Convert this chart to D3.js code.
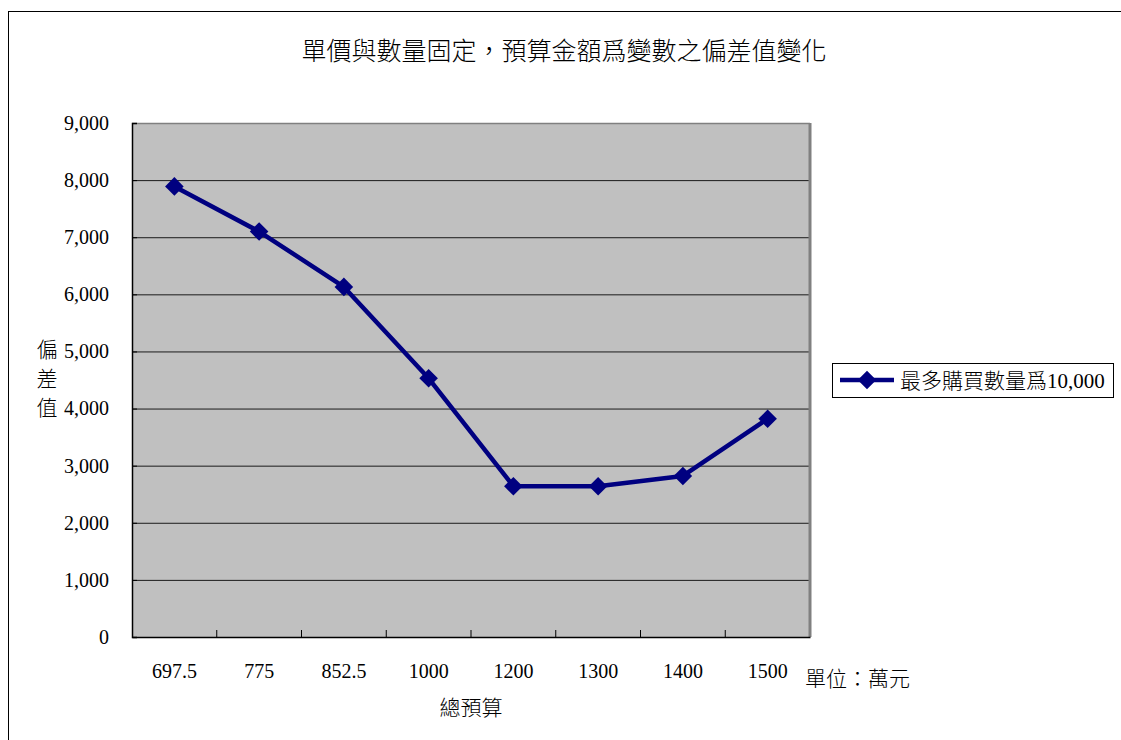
<!DOCTYPE html>
<html>
<head>
<meta charset="utf-8">
<script src="https://cdn.jsdelivr.net/npm/d3@7"></script>
<style>
  body { margin: 0; background: #fff; }
  svg text { fill: #000; }
</style>
</head>
<body>
<div id="chart"></div>
<script>
const chartTitle = "單價與數量固定，預算金額爲變數之偏差值變化";
const categories = ["697.5", "775", "852.5", "1000", "1200", "1300", "1400", "1500"];
const values = [7890, 7100, 6130, 4530, 2640, 2640, 2820, 3820];
const yTickValues = [0, 1000, 2000, 3000, 4000, 5000, 6000, 7000, 8000, 9000];
const seriesName = "最多購買數量爲10,000";
const yLabel = ["偏", "差", "值"];
const xLabel = "總預算";
const unitLabel = "單位：萬元";

const W = 1121, H = 740;
const margin = { top: 123, right: 311, bottom: 103, left: 132 },
    width = W - margin.left - margin.right,
    height = H - margin.top - margin.bottom;

const serif = '"Liberation Serif", "Noto Sans CJK TC", serif';
const cjk = '"Noto Sans CJK TC", "Liberation Serif", sans-serif';
const navy = "#000080";

const svg = d3.select("#chart").append("svg")
    .attr("width", W)
    .attr("height", H);

// outer chart frame (runs off the right and bottom of the picture)
svg.append("rect")
    .attr("x", 8.5).attr("y", 11.5)
    .attr("width", W + 20).attr("height", H + 20)
    .attr("fill", "#fff")
    .attr("stroke", "#000");

svg.append("text")
    .attr("x", 564).attr("y", 60)
    .attr("text-anchor", "middle")
    .style("font-family", cjk)
    .style("font-size", "25px")
    .style("font-weight", 300)
    .text(chartTitle);

const g = svg.append("g")
    .attr("transform", "translate(" + margin.left + "," + margin.top + ")");

const x = d3.scaleBand()
    .domain(categories)
    .range([0, width]);

const y = d3.scaleLinear()
    .domain([0, 9000])
    .range([height, 0]);

// plot area
g.append("rect")
    .attr("width", width).attr("height", height)
    .attr("fill", "#c0c0c0");

// gridlines
g.append("g")
    .call(d3.axisLeft(y).tickValues(yTickValues.slice(1, -1)).tickSize(-width).tickFormat(""))
    .call(s => s.select(".domain").remove())
    .selectAll("line").attr("stroke", "#1a1a1a");

// top and right border
g.append("line").attr("x1", 0).attr("x2", width).attr("y1", 0.5).attr("y2", 0.5)
    .attr("stroke", "#808080").attr("stroke-width", 1.5);
g.append("line").attr("x1", width).attr("x2", width).attr("y1", 0).attr("y2", height)
    .attr("stroke", "#808080").attr("stroke-width", 3);

// y axis
g.append("g")
    .call(d3.axisLeft(y).tickValues(yTickValues).tickSize(-5).tickPadding(23)
        .tickFormat(d3.format(",")))
    .call(s => s.select(".domain").attr("stroke", "#000").attr("stroke-width", 1.5))
    .call(s => s.selectAll("text").style("font-family", serif).style("font-size", "20px").attr("fill", "#000"));

// x axis labels
const xAxis = g.append("g")
    .attr("transform", "translate(0," + height + ")")
    .call(d3.axisBottom(x).tickSize(0).tickPadding(27))
    .call(s => s.select(".domain").attr("stroke", "#000").attr("stroke-width", 1.5))
    .call(s => s.selectAll("text").style("font-family", serif).style("font-size", "20px").attr("fill", "#000"));

// x ticks at category boundaries, pointing inward
xAxis.selectAll(".boundary")
    .data(categories.slice(1))
    .enter().append("line")
    .attr("class", "boundary")
    .attr("x1", d => x(d)).attr("x2", d => x(d))
    .attr("y1", 0).attr("y2", -7)
    .attr("stroke", "#000");

// series
const line = d3.line()
    .x((d, i) => x(categories[i]) + x.bandwidth() / 2)
    .y(d => y(d));

g.append("path")
    .datum(values)
    .attr("fill", "none")
    .attr("stroke", navy)
    .attr("stroke-width", 4.5)
    .attr("stroke-linejoin", "round")
    .attr("d", line);

const diamond = d3.symbol().type(d3.symbolDiamond2).size(220);

g.selectAll(".pt")
    .data(values)
    .enter().append("path")
    .attr("class", "pt")
    .attr("transform", (d, i) => "translate(" + (x(categories[i]) + x.bandwidth() / 2) + "," + y(d) + ")")
    .attr("d", diamond)
    .attr("fill", navy);

// axis titles
const yl = svg.append("text")
    .attr("text-anchor", "middle")
    .style("font-family", cjk)
    .style("font-size", "21px")
    .style("font-weight", 300);
yl.selectAll("tspan")
    .data(yLabel)
    .enter().append("tspan")
    .attr("x", 47)
    .attr("y", (d, i) => 357 + i * 29)
    .text(d => d);

svg.append("text")
    .attr("x", 471).attr("y", 715)
    .attr("text-anchor", "middle")
    .style("font-family", cjk)
    .style("font-size", "21px")
    .style("font-weight", 300)
    .text(xLabel);

svg.append("text")
    .attr("x", 805).attr("y", 686)
    .style("font-family", cjk)
    .style("font-size", "21px")
    .style("font-weight", 300)
    .text(unitLabel);

// legend
const legend = svg.append("g")
    .attr("transform", "translate(832,363)");
legend.append("rect")
    .attr("x", 0.5).attr("y", 0.5)
    .attr("width", 281).attr("height", 34)
    .attr("fill", "#fff")
    .attr("stroke", "#000");
legend.append("line")
    .attr("x1", 8).attr("x2", 62)
    .attr("y1", 17).attr("y2", 17)
    .attr("stroke", navy).attr("stroke-width", 4.5);
legend.append("path")
    .attr("transform", "translate(35,17)")
    .attr("d", diamond)
    .attr("fill", navy);
legend.append("text")
    .attr("x", 68).attr("y", 25)
    .style("font-family", serif)
    .style("font-size", "21px")
    .style("font-weight", 300)
    .text(seriesName);
</script>
</body>
</html>
